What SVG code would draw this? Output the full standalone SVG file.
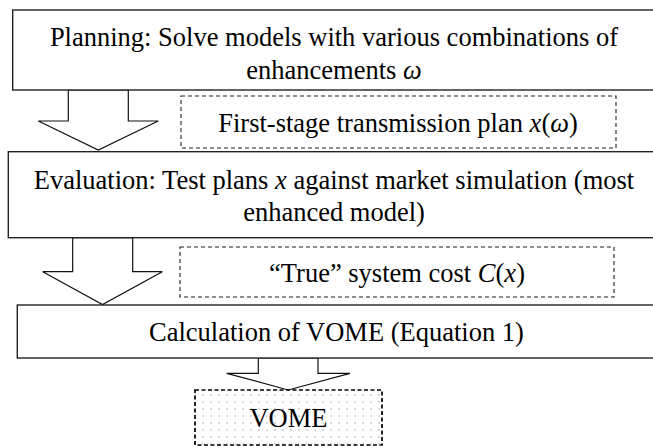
<svg xmlns="http://www.w3.org/2000/svg" width="653" height="446" viewBox="0 0 653 446" font-family="'Liberation Serif', 'Times New Roman', Times, serif">
<style>
text{font-size:26.5px;fill:#000;text-anchor:middle}
.box{fill:#fff;stroke:#222;stroke-width:1.4}
.dash{fill:#fff;stroke:#222;stroke-width:1.1;stroke-dasharray:4 3}
.out{fill:url(#dots);stroke:#000;stroke-width:1.7;stroke-dasharray:4 2.5}
.arrow{fill:#fff;stroke:#111;stroke-width:1.2;stroke-linejoin:miter}
.m{font-style:italic}
</style>
<defs>
<pattern id="dots" width="8" height="7" patternUnits="userSpaceOnUse">
<rect width="8" height="7" fill="#fff"/>
<circle cx="3" cy="3" r="0.7" fill="#999"/>
</pattern>
</defs>
<rect width="653" height="446" fill="#fff"/>
<g id="connectors">
<polygon class="arrow" points="68.3,90 68.3,121 38.3,121 98.3,150 158.3,121 128.3,121 128.3,90"/>
<polygon class="arrow" points="72.7,237.7 72.7,271.7 42.7,271.7 102.5,304.5 162.3,271.7 132.7,271.7 132.7,237.7"/>
<polygon class="arrow" points="258.3,358 258.3,373.3 226.7,373.3 288.3,390 350,373.3 318,373.3 318,358"/>
</g>
<g id="planning">
<rect class="box" x="12.7" y="10" width="644" height="80"/>
<text font-family="Liberation Serif, serif" x="334" y="46">Planning: Solve models with various combinations of</text>
<text font-family="Liberation Serif, serif" x="334" y="79">enhancements <tspan class="m">ω</tspan></text>
</g>
<g id="plan-output">
<rect class="dash" x="181" y="96" width="435" height="52"/>
<text font-family="Liberation Serif, serif" x="398" y="132">First-stage transmission plan <tspan class="m">x</tspan>(<tspan class="m">ω</tspan>)</text>
</g>
<g id="evaluation">
<rect class="box" x="8.3" y="151.7" width="652" height="86"/>
<text font-family="Liberation Serif, serif" x="334" y="188.5">Evaluation: Test plans <tspan class="m">x</tspan> against market simulation (most</text>
<text font-family="Liberation Serif, serif" x="334" y="220.5">enhanced model)</text>
</g>
<g id="cost-output">
<rect class="dash" x="180" y="247" width="434" height="50"/>
<text font-family="Liberation Serif, serif" x="397" y="282">“True” system cost <tspan class="m">C</tspan>(<tspan class="m">x</tspan>)</text>
</g>
<g id="calculation">
<rect class="box" x="17.3" y="305" width="640" height="53"/>
<text font-family="Liberation Serif, serif" x="336.5" y="341">Calculation of VOME (Equation 1)</text>
</g>
<g id="vome">
<rect class="out" x="195" y="390" width="187" height="55"/>
<text font-family="Liberation Serif, serif" x="288.5" y="427">VOME</text>
</g>
</svg>
